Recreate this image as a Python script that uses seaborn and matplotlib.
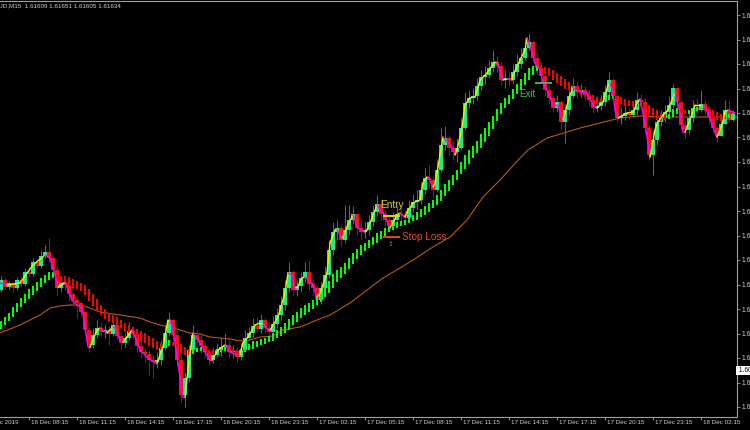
import numpy as np
import matplotlib
matplotlib.use('Agg')
import matplotlib.pyplot as plt
from matplotlib.collections import LineCollection
from matplotlib.transforms import blended_transform_factory
import seaborn as sns

# EURAUD M15, one value per bar, first bar = 16 Dec 2019 06:30
first_open = 1.60930
closes = [
    1.60970, 1.60942, 1.60958, 1.60938, 1.60970, 1.60954, 1.61002, 1.60994, 1.61042, 1.61026,
    1.61066, 1.61082, 1.61058, 1.61010, 1.60938, 1.60962, 1.60950, 1.60914, 1.60890, 1.60878,
    1.60842, 1.60770, 1.60710, 1.60750, 1.60778, 1.60762, 1.60770, 1.60754, 1.60790, 1.60746,
    1.60718, 1.60738, 1.60766, 1.60754, 1.60706, 1.60682, 1.60674, 1.60650, 1.60642, 1.60650,
    1.60698, 1.60758, 1.60810, 1.60750, 1.60650, 1.60510, 1.60578, 1.60690, 1.60750, 1.60730,
    1.60706, 1.60682, 1.60650, 1.60670, 1.60690, 1.60702, 1.60710, 1.60682, 1.60686, 1.60662,
    1.60690, 1.60738, 1.60758, 1.60786, 1.60774, 1.60810, 1.60778, 1.60762, 1.60794, 1.60830,
    1.60870, 1.60938, 1.61002, 1.60930, 1.60946, 1.60978, 1.61002, 1.60954, 1.60938, 1.60890,
    1.60938, 1.60990, 1.61090, 1.61162, 1.61178, 1.61130, 1.61170, 1.61210, 1.61234, 1.61178,
    1.61162, 1.61170, 1.61202, 1.61242, 1.61274, 1.61234, 1.61210, 1.61186, 1.61210, 1.61234,
    1.61230, 1.61218, 1.61258, 1.61282, 1.61290, 1.61330, 1.61378, 1.61370, 1.61330, 1.61410,
    1.61510, 1.61538, 1.61498, 1.61482, 1.61498, 1.61578, 1.61678, 1.61698, 1.61706, 1.61746,
    1.61782, 1.61790, 1.61818, 1.61842, 1.61826, 1.61770, 1.61778, 1.61770, 1.61802, 1.61834,
    1.61858, 1.61898, 1.61922, 1.61858, 1.61818, 1.61786, 1.61730, 1.61698, 1.61658, 1.61682,
    1.61602, 1.61650, 1.61706, 1.61746, 1.61722, 1.61730, 1.61710, 1.61690, 1.61658, 1.61666,
    1.61682, 1.61722, 1.61770, 1.61706, 1.61618, 1.61626, 1.61638, 1.61630, 1.61650, 1.61690,
    1.61682, 1.61578, 1.61470, 1.61530, 1.61602, 1.61618, 1.61642, 1.61670, 1.61738, 1.61682,
    1.61590, 1.61570, 1.61618, 1.61658, 1.61650, 1.61674, 1.61650, 1.61618, 1.61578, 1.61546,
    1.61594, 1.61650, 1.61609, 1.61634]
highs = [
    1.60986, 1.60978, 1.60966, 1.60962, 1.60982, 1.60986, 1.61018, 1.61026, 1.61058, 1.61054,
    1.61090, 1.61110, 1.61138, 1.61070, 1.61026, 1.60978, 1.60974, 1.60958, 1.60922, 1.60906,
    1.60882, 1.60850, 1.60778, 1.60778, 1.60810, 1.60802, 1.60790, 1.60786, 1.60810, 1.60802,
    1.60762, 1.60758, 1.60802, 1.60786, 1.60766, 1.60730, 1.60698, 1.60690, 1.60670, 1.60682,
    1.60730, 1.60790, 1.60842, 1.60818, 1.60770, 1.60670, 1.60602, 1.60710, 1.60790, 1.60770,
    1.60750, 1.60722, 1.60690, 1.60698, 1.60718, 1.60738, 1.60758, 1.60730, 1.60710, 1.60702,
    1.60718, 1.60770, 1.60782, 1.60818, 1.60822, 1.60834, 1.60818, 1.60802, 1.60826, 1.60858,
    1.60906, 1.60970, 1.61042, 1.61010, 1.60970, 1.61002, 1.61042, 1.61050, 1.60978, 1.60950,
    1.60962, 1.61026, 1.61130, 1.61202, 1.61210, 1.61190, 1.61270, 1.61270, 1.61266, 1.61234,
    1.61210, 1.61202, 1.61230, 1.61270, 1.61310, 1.61290, 1.61250, 1.61230, 1.61242, 1.61266,
    1.61258, 1.61250, 1.61290, 1.61314, 1.61330, 1.61362, 1.61418, 1.61430, 1.61386, 1.61450,
    1.61578, 1.61586, 1.61550, 1.61530, 1.61538, 1.61618, 1.61722, 1.61730, 1.61738, 1.61778,
    1.61810, 1.61826, 1.61850, 1.61890, 1.61866, 1.61842, 1.61810, 1.61802, 1.61834, 1.61874,
    1.61898, 1.61938, 1.61958, 1.61930, 1.61882, 1.61842, 1.61802, 1.61750, 1.61710, 1.61710,
    1.61690, 1.61674, 1.61738, 1.61778, 1.61762, 1.61754, 1.61746, 1.61730, 1.61706, 1.61690,
    1.61710, 1.61750, 1.61802, 1.61778, 1.61710, 1.61658, 1.61666, 1.61662, 1.61674, 1.61722,
    1.61714, 1.61698, 1.61590, 1.61570, 1.61630, 1.61650, 1.61670, 1.61706, 1.61754, 1.61742,
    1.61690, 1.61610, 1.61642, 1.61690, 1.61698, 1.61730, 1.61690, 1.61666, 1.61634, 1.61586,
    1.61626, 1.61690, 1.61690, 1.61651]
lows = [
    1.60922, 1.60930, 1.60930, 1.60922, 1.60930, 1.60942, 1.60946, 1.60982, 1.60986, 1.61018,
    1.61018, 1.61058, 1.61042, 1.60994, 1.60910, 1.60922, 1.60930, 1.60890, 1.60866, 1.60818,
    1.60826, 1.60750, 1.60682, 1.60698, 1.60738, 1.60746, 1.60738, 1.60710, 1.60746, 1.60730,
    1.60690, 1.60702, 1.60730, 1.60738, 1.60682, 1.60658, 1.60642, 1.60590, 1.60578, 1.60618,
    1.60630, 1.60690, 1.60746, 1.60730, 1.60626, 1.60482, 1.60462, 1.60562, 1.60682, 1.60690,
    1.60678, 1.60658, 1.60630, 1.60638, 1.60662, 1.60666, 1.60682, 1.60658, 1.60658, 1.60642,
    1.60650, 1.60682, 1.60730, 1.60742, 1.60762, 1.60758, 1.60758, 1.60738, 1.60750, 1.60778,
    1.60810, 1.60850, 1.60922, 1.60910, 1.60906, 1.60922, 1.60962, 1.60930, 1.60906, 1.60866,
    1.60874, 1.60922, 1.60978, 1.61070, 1.61130, 1.61106, 1.61118, 1.61150, 1.61194, 1.61150,
    1.61130, 1.61138, 1.61150, 1.61186, 1.61226, 1.61210, 1.61186, 1.61162, 1.61170, 1.61190,
    1.61202, 1.61194, 1.61202, 1.61242, 1.61250, 1.61274, 1.61314, 1.61338, 1.61298, 1.61322,
    1.61402, 1.61490, 1.61470, 1.61450, 1.61442, 1.61490, 1.61570, 1.61658, 1.61674, 1.61690,
    1.61730, 1.61754, 1.61778, 1.61802, 1.61802, 1.61750, 1.61738, 1.61746, 1.61754, 1.61786,
    1.61818, 1.61850, 1.61890, 1.61842, 1.61794, 1.61762, 1.61706, 1.61674, 1.61642, 1.61642,
    1.61570, 1.61518, 1.61630, 1.61698, 1.61698, 1.61702, 1.61690, 1.61666, 1.61638, 1.61642,
    1.61650, 1.61666, 1.61710, 1.61682, 1.61602, 1.61594, 1.61610, 1.61610, 1.61622, 1.61630,
    1.61658, 1.61554, 1.61450, 1.61390, 1.61510, 1.61586, 1.61602, 1.61626, 1.61658, 1.61650,
    1.61570, 1.61538, 1.61554, 1.61602, 1.61634, 1.61642, 1.61626, 1.61594, 1.61554, 1.61522,
    1.61546, 1.61594, 1.61602, 1.61605]

# smoothed heiken ashi bars (thick green / red)
ha_open = [
    1.60774, 1.60790, 1.60806, 1.60824, 1.60844, 1.60864, 1.60880, 1.60896, 1.60912, 1.60928,
    1.60944, 1.60958, 1.60970, 1.60978, 1.60994, 1.60988, 1.60986, 1.60982, 1.60976, 1.60968,
    1.60960, 1.60950, 1.60934, 1.60914, 1.60894, 1.60872, 1.60854, 1.60840, 1.60830, 1.60822,
    1.60812, 1.60800, 1.60790, 1.60782, 1.60776, 1.60766, 1.60758, 1.60746, 1.60738, 1.60728,
    1.60720, 1.60700, 1.60706, 1.60724, 1.60720, 1.60714, 1.60704, 1.60696, 1.60676, 1.60682,
    1.60686, 1.60698, 1.60692, 1.60690, 1.60678, 1.60682, 1.60686, 1.60698, 1.60694, 1.60690,
    1.60678, 1.60684, 1.60690, 1.60696, 1.60702, 1.60710, 1.60714, 1.60722, 1.60728, 1.60738,
    1.60748, 1.60758, 1.60772, 1.60790, 1.60802, 1.60818, 1.60830, 1.60844, 1.60856, 1.60870,
    1.60884, 1.60902, 1.60918, 1.60940, 1.60962, 1.60980, 1.60996, 1.61016, 1.61036, 1.61054,
    1.61072, 1.61086, 1.61098, 1.61110, 1.61120, 1.61134, 1.61148, 1.61162, 1.61170, 1.61178,
    1.61188, 1.61192, 1.61198, 1.61206, 1.61212, 1.61222, 1.61232, 1.61244, 1.61258, 1.61272,
    1.61288, 1.61306, 1.61328, 1.61350, 1.61370, 1.61394, 1.61414, 1.61436, 1.61458, 1.61478,
    1.61500, 1.61524, 1.61548, 1.61576, 1.61606, 1.61636, 1.61658, 1.61676, 1.61696, 1.61714,
    1.61732, 1.61750, 1.61770, 1.61792, 1.61806, 1.61830, 1.61824, 1.61818, 1.61810, 1.61798,
    1.61788, 1.61774, 1.61762, 1.61750, 1.61742, 1.61734, 1.61726, 1.61718, 1.61712, 1.61704,
    1.61700, 1.61686, 1.61692, 1.61694, 1.61708, 1.61704, 1.61696, 1.61692, 1.61686, 1.61684,
    1.61680, 1.61676, 1.61670, 1.61660, 1.61650, 1.61638, 1.61634, 1.61616, 1.61624, 1.61634,
    1.61654, 1.61652, 1.61634, 1.61640, 1.61646, 1.61650, 1.61662, 1.61660, 1.61652, 1.61642,
    1.61636, 1.61632, 1.61618, 1.61622]
ha_close = [
    1.60806, 1.60822, 1.60838, 1.60860, 1.60880, 1.60900, 1.60916, 1.60932, 1.60948, 1.60964,
    1.60980, 1.60990, 1.61002, 1.61002, 1.60970, 1.60960, 1.60962, 1.60950, 1.60940, 1.60932,
    1.60924, 1.60910, 1.60886, 1.60866, 1.60846, 1.60828, 1.60814, 1.60804, 1.60798, 1.60790,
    1.60776, 1.60764, 1.60758, 1.60750, 1.60740, 1.60726, 1.60718, 1.60706, 1.60698, 1.60692,
    1.60692, 1.60720, 1.60730, 1.60704, 1.60692, 1.60674, 1.60668, 1.60668, 1.60696, 1.60698,
    1.60702, 1.60682, 1.60672, 1.60674, 1.60694, 1.60698, 1.60702, 1.60682, 1.60678, 1.60674,
    1.60694, 1.60704, 1.60714, 1.60724, 1.60726, 1.60734, 1.60738, 1.60746, 1.60756, 1.60770,
    1.60784, 1.60798, 1.60816, 1.60830, 1.60842, 1.60858, 1.60870, 1.60880, 1.60892, 1.60902,
    1.60920, 1.60942, 1.60966, 1.60992, 1.61010, 1.61024, 1.61040, 1.61060, 1.61080, 1.61094,
    1.61108, 1.61118, 1.61130, 1.61142, 1.61156, 1.61166, 1.61176, 1.61186, 1.61194, 1.61202,
    1.61208, 1.61212, 1.61222, 1.61230, 1.61240, 1.61254, 1.61268, 1.61280, 1.61290, 1.61308,
    1.61332, 1.61354, 1.61372, 1.61390, 1.61410, 1.61442, 1.61470, 1.61488, 1.61506, 1.61526,
    1.61552, 1.61576, 1.61600, 1.61628, 1.61654, 1.61680, 1.61698, 1.61712, 1.61732, 1.61754,
    1.61776, 1.61798, 1.61818, 1.61828, 1.61830, 1.61806, 1.61796, 1.61786, 1.61770, 1.61758,
    1.61744, 1.61734, 1.61730, 1.61726, 1.61718, 1.61710, 1.61702, 1.61694, 1.61684, 1.61676,
    1.61680, 1.61702, 1.61712, 1.61710, 1.61688, 1.61676, 1.61668, 1.61664, 1.61662, 1.61664,
    1.61660, 1.61648, 1.61630, 1.61616, 1.61610, 1.61606, 1.61610, 1.61636, 1.61652, 1.61658,
    1.61638, 1.61632, 1.61650, 1.61660, 1.61662, 1.61666, 1.61646, 1.61640, 1.61624, 1.61610,
    1.61608, 1.61612, 1.61634, 1.61638]

# fast smoothed price line (yellow rising, magenta falling)
line_bar = [
    -0.25, 1.5, 4.75, 8, 11, 12.25, 13.5, 14.25, 16, 16.5, 17.75, 19, 20.25, 21, 21.75, 22.25,
    24, 24.75, 26.5, 27.25, 28, 28.5, 29.75, 30.5, 31.5, 32.75, 33, 34.75, 36.5, 38.5, 39, 40.5,
    41.75, 42.25, 43, 44.25, 45.25, 45.5, 46, 46.75, 47.75, 48, 49, 51, 52.25, 52.75, 54.25, 56,
    57.25, 59, 59.75, 60.5, 61.75, 63.5, 64.75, 65.5, 66.75, 67.25, 69.25, 71, 71.75, 72.75,
    73.25, 74, 75.25, 76, 77.75, 79, 79.75, 81.5, 82.25, 83.5, 84, 85.25, 85.5, 86.5, 87.75, 88,
    89.25, 91, 91.5, 92.75, 94, 94.75, 95.5, 97.25, 99, 99.75, 101, 101.5, 103, 104.75, 105.5,
    106.5, 106.75, 108, 108.5, 109.25, 110.5, 112.75, 113.5, 114, 115.25, 116, 117.25, 118.5,
    119.75, 121.5, 123.5, 124, 125.5, 126.5, 127.75, 128, 129.75, 131, 131.5, 132.75, 133.5,
    134.75, 135.5, 137.25, 138, 139.25, 140.5, 141, 142.25, 143, 144.75, 146.5, 148, 149, 150.5,
    151.75, 152.25, 153, 153.5, 154.25, 156.5, 158, 159, 159.75, 161, 162.25, 163.5, 164.25,
    165.5, 166.75, 167.75, 168.5, 169.75, 170.5, 171, 172.25, 173.5, 175.5, 176.75, 178, 179,
    180.25, 181, 181.75, 183.5]
line_price = [
    1.60958, 1.60950, 1.60958, 1.61030, 1.61070, 1.61058, 1.60990, 1.60942, 1.60958, 1.60942,
    1.60890, 1.60870, 1.60858, 1.60782, 1.60702, 1.60702, 1.60770, 1.60778, 1.60758, 1.60770,
    1.60782, 1.60778, 1.60730, 1.60722, 1.60742, 1.60770, 1.60762, 1.60690, 1.60662, 1.60638,
    1.60638, 1.60702, 1.60810, 1.60810, 1.60770, 1.60638, 1.60518, 1.60502, 1.60502, 1.60610,
    1.60742, 1.60758, 1.60738, 1.60682, 1.60650, 1.60650, 1.60690, 1.60710, 1.60682, 1.60670,
    1.60670, 1.60718, 1.60742, 1.60790, 1.60798, 1.60798, 1.60770, 1.60770, 1.60822, 1.60918,
    1.60998, 1.60990, 1.60938, 1.60938, 1.60978, 1.60982, 1.60958, 1.60902, 1.60918, 1.60998,
    1.61118, 1.61170, 1.61170, 1.61138, 1.61142, 1.61182, 1.61222, 1.61230, 1.61178, 1.61162,
    1.61170, 1.61218, 1.61270, 1.61250, 1.61242, 1.61178, 1.61230, 1.61238, 1.61222, 1.61242,
    1.61278, 1.61290, 1.61358, 1.61382, 1.61382, 1.61342, 1.61358, 1.61422, 1.61542, 1.61502,
    1.61470, 1.61490, 1.61578, 1.61670, 1.61698, 1.61702, 1.61770, 1.61798, 1.61842, 1.61842,
    1.61770, 1.61774, 1.61770, 1.61790, 1.61850, 1.61890, 1.61938, 1.61882, 1.61838, 1.61810,
    1.61762, 1.61702, 1.61670, 1.61670, 1.61610, 1.61638, 1.61710, 1.61738, 1.61722, 1.61718,
    1.61670, 1.61658, 1.61682, 1.61750, 1.61758, 1.61718, 1.61650, 1.61618, 1.61638, 1.61642,
    1.61678, 1.61694, 1.61598, 1.61462, 1.61570, 1.61602, 1.61630, 1.61650, 1.61690, 1.61722,
    1.61638, 1.61562, 1.61562, 1.61610, 1.61670, 1.61670, 1.61638, 1.61582, 1.61542, 1.61590,
    1.61642, 1.61650, 1.61638]

# slow moving average (orange)
ma_bar = [
    -0.25, 4.75, 9.75, 12.25, 14.75, 17.25, 19.75, 21.5, 24.75, 29.75, 34.75, 37.25, 39.75,
    42.25, 44.75, 47.25, 49.75, 52.25, 57.25, 59.75, 62.25, 64.75, 68, 70.5, 74.75, 79, 82.25,
    87.25, 91.5, 95.5, 99.75, 103, 108, 112.25, 116.5, 120.5, 124.75, 129.75, 131.75, 136.5,
    141.5, 144.75, 149.75, 154.75, 159.75, 164.75, 169.75, 174.75, 179.75, 184]
ma_price = [
    1.60758, 1.60790, 1.60830, 1.60858, 1.60866, 1.60870, 1.60870, 1.60862, 1.60842, 1.60830,
    1.60818, 1.60802, 1.60790, 1.60782, 1.60770, 1.60758, 1.60754, 1.60742, 1.60734, 1.60726,
    1.60730, 1.60742, 1.60746, 1.60770, 1.60782, 1.60810, 1.60830, 1.60878, 1.60930, 1.60978,
    1.61018, 1.61050, 1.61102, 1.61142, 1.61210, 1.61302, 1.61370, 1.61458, 1.61490, 1.61538,
    1.61562, 1.61578, 1.61598, 1.61618, 1.61626, 1.61622, 1.61622, 1.61622, 1.61622, 1.61622]

# trade markers
entry_price = 1.61226
stop_price = 1.61142
exit_price = 1.61758
entry_bars = (95.5, 99.75)
exit_bars = (133.5, 137.75)

# time axis
label_bars = [7, 19, 31, 43, 55, 67, 79, 91, 103, 115, 127, 139, 151, 163, 175]
time_labels = ['16 Dec 08:15', '16 Dec 11:15', '16 Dec 14:15', '16 Dec 17:15', '16 Dec 20:15',
               '16 Dec 23:15', '17 Dec 02:15', '17 Dec 05:15', '17 Dec 08:15', '17 Dec 11:15',
               '17 Dec 14:15', '17 Dec 17:15', '17 Dec 20:15', '17 Dec 23:15', '18 Dec 02:15']
header = 'EURAUD,M15  1.61609 1.61651 1.61605 1.61634'
marker_price = 1.60610

sns.set_style('dark', {'axes.facecolor': 'black', 'figure.facecolor': 'black', 'axes.grid': False})
plt.rcParams['font.family'] = ['Liberation Sans', 'DejaVu Sans']

fg = '#a0a0a0'
txt = '#d0d0d0'

fig = plt.figure(figsize=(7.5, 4.3), dpi=100)
ax = fig.add_axes([0, 13 / 430, 737 / 750, 416 / 430])

x = np.arange(len(closes))
c = np.array(closes)
o = np.array([first_open] + closes[:-1])
up = c >= o

# candles
ax.vlines(x, lows, highs, colors=np.where(up, '#1f8a46', '#a01010'), lw=0.75, zorder=2)
ax.bar(x, c - o, bottom=o, width=0.85, color=np.where(up, '#10f090', '#ff1010'), lw=0, zorder=3)

# heiken ashi smoothed
ho = np.array(ha_open)
hc = np.array(ha_close)
ax.bar(x, hc - ho, bottom=ho, width=0.7, color=np.where(hc >= ho, '#00ff00', '#ff0000'), lw=0, zorder=4)

# slow MA
sns.lineplot(x=ma_bar, y=ma_price, ax=ax, color='#b85a0c', lw=0.8, zorder=1,
             sort=False, estimator=None, legend=False)

# price line coloured by direction
pts = np.column_stack([line_bar, line_price])
segs = np.stack([pts[:-1], pts[1:]], axis=1)
cols = []
last = '#f0f000'
for d in np.diff(line_price):
    if d > 0:
        last = '#f0f000'
    elif d < 0:
        last = '#ff00ff'
    cols.append(last)
ax.add_collection(LineCollection(segs, colors=cols, linewidths=1.0, zorder=5, capstyle='round'))

# trade annotations
ax.hlines(entry_price, *entry_bars, color='#f0e000', lw=1.3, zorder=6)
ax.hlines(stop_price, *entry_bars, color='#f05020', lw=1.3, zorder=6)
ax.hlines(exit_price, *exit_bars, color='#40c050', lw=1.3, zorder=6)
ax.text(94.75, 1.61258, 'Entry', color='#e0d040', fontsize=7.2, va='baseline', ha='left', zorder=7)
ax.text(100.25, stop_price, 'Stop Loss', color='#e8501e', fontsize=7.2, va='center', ha='left', zorder=7)
ax.text(97.5, 1.61112, '\u21e7', color='#b08830', fontsize=5, va='center', ha='center',
        family='DejaVu Sans', zorder=7)
ax.text(129.5, 1.61702, 'Exit', color='#38c058', fontsize=7, va='baseline', ha='left', zorder=7)

ax.set_xlim(-0.25, 184)
ax.set_ylim(1.60422, 1.62086)

for s in ['top', 'right', 'bottom']:
    ax.spines[s].set_color(fg)
    ax.spines[s].set_linewidth(0.8)
ax.spines['left'].set_visible(False)

# price axis on the right
price_ticks = [1.62030 - 0.00098 * k for k in range(17)]
ax.yaxis.tick_right()
ax.set_yticks(price_ticks)
ax.set_yticklabels([f'{p:.5f}' for p in price_ticks])
ax.tick_params(axis='y', right=True, left=False, length=2.5, width=0.6, color=fg,
               labelcolor=txt, labelsize=4.8, pad=1)
ax.text(1.0, marker_price, ' ' + f'{marker_price:.5f}', transform=ax.get_yaxis_transform(),
        fontsize=4.8, color='black', va='center', ha='left', clip_on=False,
        bbox=dict(boxstyle='square,pad=0.15', fc='white', ec='none'))

# time axis
ax.set_xticks(label_bars)
ax.set_xticklabels([])
ax.tick_params(axis='x', bottom=True, length=2.5, width=0.6, color=fg)
trans = blended_transform_factory(ax.transData, ax.transAxes)
for b, lab in zip([-5] + label_bars, ['16 Dec 2019'] + time_labels):
    ax.text(b + 0.5, -6 / 416, lab, transform=trans, ha='left', va='center',
            fontsize=4.5, color=txt, clip_on=False)

fig.text(-19 / 750, 1 - 6 / 430, header, fontsize=4.5, color=txt, ha='left', va='center')

fig.savefig('out.png', dpi=100, facecolor='black')
